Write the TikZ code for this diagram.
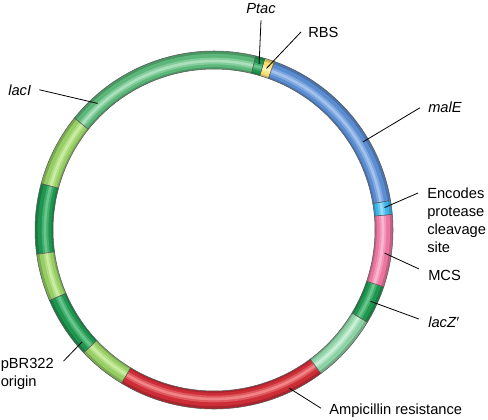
\documentclass[tikz,border=0pt]{standalone}
\usepackage{xcolor}
\usepackage{fontspec}
\setmainfont{Liberation Sans}

\definecolor{lacIgreen}{RGB}{92,184,122}
\definecolor{lacIlight}{RGB}{172,224,188}
\definecolor{ygreen}{RGB}{150,206,100}
\definecolor{ylight}{RGB}{202,236,162}
\definecolor{dgreen}{RGB}{30,150,80}
\definecolor{dlight}{RGB}{104,198,138}
\definecolor{ampred}{RGB}{205,45,55}
\definecolor{redlight}{RGB}{240,132,132}
\definecolor{mint}{RGB}{140,210,165}
\definecolor{mintlight}{RGB}{202,238,214}
\definecolor{mcspink}{RGB}{236,118,160}
\definecolor{pinklight}{RGB}{248,182,206}
\definecolor{cleavecyan}{RGB}{60,180,235}
\definecolor{cyanlight}{RGB}{152,220,248}
\definecolor{malEblue}{RGB}{90,140,210}
\definecolor{bluelight}{RGB}{162,194,236}
\definecolor{rbsyellow}{RGB}{244,220,110}
\definecolor{yellowlight}{RGB}{252,241,182}

% one piece of the plasmid ring: start angle, end angle, colour, highlight
\newcommand{\ringpart}[4]{%
  \fill[#3!82!black] ([shift={(#1:179)}]C) arc[start angle=#1,end angle=#2,radius=179] -- ([shift={(#2:161)}]C) arc[start angle=#2,end angle=#1,radius=161] -- cycle;
  \draw[line width=10pt,#3] ([shift={(#1:169.5)}]C) arc[start angle=#1,end angle=#2,radius=169.5];
  \draw[line width=5pt,#3!50!#4] ([shift={(#1:169)}]C) arc[start angle=#1,end angle=#2,radius=169];
  \draw[line width=2pt,#4] ([shift={(#1:169)}]C) arc[start angle=#1,end angle=#2,radius=169];
  \draw[ringedge] ([shift={(#1:179)}]C) arc[start angle=#1,end angle=#2,radius=179] -- ([shift={(#2:161)}]C) arc[start angle=#2,end angle=#1,radius=161] -- cycle;
}

\begin{document}
\begin{tikzpicture}[x=0.75pt,y=0.75pt,yscale=-1,xscale=1,
  ringedge/.style={draw=black!65,line width=0.4pt},
  label/.style={inner sep=0.75pt,font=\fontsize{11}{13.5}\selectfont},
  gene/.style={label,font=\fontsize{11}{13.5}\selectfont\itshape},
  leader/.style={draw=black,line width=0.6pt}]
\useasboundingbox (0,0) rectangle (488,419);

\coordinate (C) at (214,230);

%Shape: Arc [lacI]
\ringpart{218.7}{283.5}{lacIgreen}{lacIlight}
%Shape: Arc
\ringpart{195}{218.7}{ygreen}{ylight}
%Shape: Arc
\ringpart{172.2}{195}{dgreen}{dlight}
%Shape: Arc
\ringpart{156.8}{172.2}{ygreen}{ylight}
%Shape: Arc [pBR322 origin]
\ringpart{136.7}{156.8}{dgreen}{dlight}
%Shape: Arc
\ringpart{121.1}{136.7}{ygreen}{ylight}
%Shape: Arc [Ampicillin resistance]
\ringpart{53.3}{121.1}{ampred}{redlight}
%Shape: Arc
\ringpart{31}{53.3}{mint}{mintlight}
%Shape: Arc [lacZ']
\ringpart{18.5}{31}{dgreen}{dlight}
%Shape: Arc [MCS]
\ringpart{-5}{18.5}{mcspink}{pinklight}
%Shape: Arc [cleavage site]
\ringpart{-9.5}{-5}{cleavecyan}{cyanlight}
%Shape: Arc [malE]
\ringpart{-70.3}{-9.5}{malEblue}{bluelight}
%Shape: Arc [RBS]
\ringpart{-73.5}{-70.3}{rbsyellow}{yellowlight}
%Shape: Arc [Ptac]
\ringpart{-76.5}{-73.5}{dgreen}{dlight}

% points on the ring
\coordinate (ptac-pt) at ([shift={(-74.8:172)}]C);
\coordinate (rbs-pt) at ([shift={(-72:170)}]C);
\coordinate (male-pt) at ([shift={(-30.6:173)}]C);
\coordinate (enc-pt) at ([shift={(-7.5:172)}]C);
\coordinate (mcs-pt) at ([shift={(7.7:172)}]C);
\coordinate (lacz-pt) at ([shift={(24.5:172)}]C);
\coordinate (amp-pt) at ([shift={(64.6:175)}]C);
\coordinate (pbr-pt) at ([shift={(139.7:173)}]C);
\coordinate (laci-pt) at ([shift={(227.4:172)}]C);

% Text Node
\node[gene,anchor=base] (ptac) at (261,13) {Ptac};
% Text Node
\node[label,anchor=base west] (rbs) at (307,37) {RBS};
% Text Node
\node[gene,anchor=base west] (male) at (427,112) {malE};
% Text Node
\node[label,anchor=north west,align=left] (enc) at (426,186.5) {Encodes\\protease\\cleavage\\site};
% Text Node
\node[label,anchor=base west] (mcs) at (427,280) {MCS};
% Text Node
\node[gene,anchor=base west] (lacz) at (427,327) {lacZ′};
% Text Node
\node[label,anchor=base west] (amp) at (328,414) {Ampicillin resistance};
% Text Node
\node[label,anchor=north west,align=left] (pbr) at (-0.5,356.5) {pBR322\\origin};
% Text Node
\node[gene,anchor=base west] (laci) at (7,95) {lacI};

%Straight Lines
\draw[leader] ([shift={(0,6)}]ptac.south) -- (ptac-pt);
\draw[leader] ([shift={(-6,0)}]rbs.west) -- (rbs-pt);
\draw[leader] ([shift={(-7,1)}]male.west) -- (male-pt);
\draw[leader] ([shift={(-8,6.5)}]enc.north west) -- (enc-pt);
\draw[leader] ([shift={(-8,-6)}]mcs.west) -- (mcs-pt);
\draw[leader] ([shift={(-8,-2.7)}]lacz.west) -- (lacz-pt);
\draw[leader] ([shift={(-7,-2)}]amp.west) -- (amp-pt);
\draw[leader] ([shift={(8.5,4.6)}]pbr.north east) -- (pbr-pt);
\draw[leader] ([shift={(7,0)}]laci.east) -- (laci-pt);

\end{tikzpicture}
\end{document}
